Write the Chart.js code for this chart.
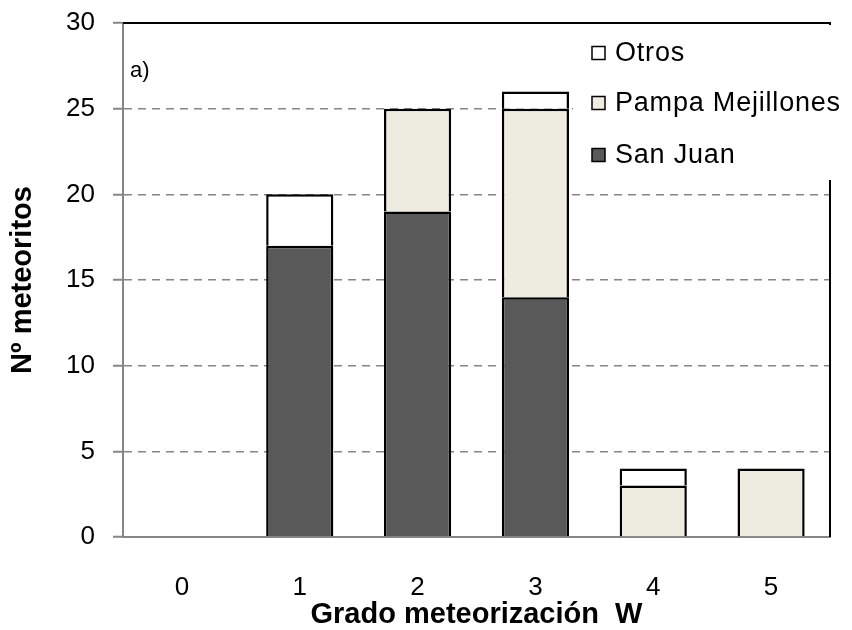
<!DOCTYPE html>
<html>
<head>
<meta charset="utf-8">
<script src="https://cdn.jsdelivr.net/npm/chart.js@4.4.1/dist/chart.umd.min.js"></script>
<style>
    body { margin: 0; background: #fff; }
    #wrap { width: 852px; height: 630px; position: relative; }
</style>
</head>
<body>
<div id="wrap"><canvas id="chart"></canvas></div>
<script>
// Data
const categories = ['0', '1', '2', '3', '4', '5'];
const sanJuan = [0, 17, 19, 14, 0, 0];
const pampaMejillones = [0, 0, 6, 11, 3, 4];
const otros = [0, 3, 0, 1, 1, 0];
const yTicks = [0, 5, 10, 15, 20, 25, 30];

const FONT = 'Arial, "Liberation Sans", sans-serif';
const GRID_GRAY = '#868686';

// Black top/right frame of the plot area
const framePlugin = {
    id: 'frame',
    afterDatasetsDraw(chart) {
        const {ctx, chartArea: a} = chart;
        ctx.save();
        ctx.strokeStyle = '#000';
        ctx.lineWidth = 2;
        ctx.beginPath();
        ctx.moveTo(a.left, a.top);
        ctx.lineTo(a.right, a.top);
        ctx.lineTo(a.right, a.bottom);
        ctx.stroke();
        ctx.restore();
    }
};

// Legend box inside the plot (top right), reversed order like the original
const boxLegendPlugin = {
    id: 'boxLegend',
    afterDraw(chart) {
        const {ctx, chartArea: a} = chart;
        ctx.save();
        ctx.fillStyle = '#fff';
        ctx.fillRect(573, a.top + 2, 279, 155);

        const rows = [53, 103, 155];
        const sets = chart.data.datasets.slice().reverse();
        ctx.font = '27px ' + FONT;
        ctx.letterSpacing = '0.8px';
        ctx.textBaseline = 'middle';
        ctx.textAlign = 'left';
        sets.forEach((ds, i) => {
            const y = rows[i];
            ctx.fillStyle = ds.backgroundColor;
            ctx.fillRect(592, y - 6.5, 13, 13);
            ctx.strokeStyle = '#000';
            ctx.lineWidth = 1.5;
            ctx.strokeRect(592, y - 6.5, 13, 13);
            ctx.fillStyle = '#000';
            ctx.fillText(ds.label, 615, y + 1);
        });

        // panel tag
        ctx.letterSpacing = '0px';
        ctx.font = '22px ' + FONT;
        ctx.fillText('a)', 130, 71);
        ctx.restore();
    }
};

const barStyle = {
    borderColor: '#000',
    borderWidth: {top: 2.5, left: 2.5, right: 2.5, bottom: 0},
    borderSkipped: false,
    barPercentage: 0.57,
    categoryPercentage: 1.0
};

new Chart(document.getElementById('chart'), {
    type: 'bar',
    data: {
        labels: categories,
        datasets: [
            {label: 'San Juan', data: sanJuan, backgroundColor: '#595959', ...barStyle},
            {label: 'Pampa Mejillones', data: pampaMejillones, backgroundColor: '#eeece1', ...barStyle},
            {label: 'Otros', data: otros, backgroundColor: '#ffffff', ...barStyle}
        ]
    },
    options: {
        responsive: true,
        maintainAspectRatio: false,
        animation: false,
        layout: {padding: {left: 0, right: 22, top: 23, bottom: 0}},
        plugins: {
            legend: {display: false},
            tooltip: {enabled: false}
        },
        scales: {
            x: {
                stacked: true,
                grid: {display: false, drawTicks: false},
                border: {display: true, color: GRID_GRAY, width: 2},
                ticks: {color: '#000', font: {family: FONT, size: 26}, padding: 35},
                title: {
                    display: true,
                    text: 'Grado meteorización  W',
                    color: '#000',
                    font: {family: FONT, size: 29, weight: 'bold', lineHeight: 1},
                    padding: {top: 0, bottom: 1}
                },
                afterFit(scale) {
                    scale.height = 93;
                    scale.paddingLeft = 0;
                    scale.paddingRight = 0;
                }
            },
            y: {
                stacked: true,
                min: 0,
                max: 30,
                afterBuildTicks(scale) {
                    scale.ticks = yTicks.map(v => ({value: v}));
                },
                grid: {
                    color: ctx => (ctx.tick && ctx.tick.value === 30) ? 'rgba(0,0,0,0)' : GRID_GRAY,
                    lineWidth: 1.5,
                    tickLength: 10,
                    tickColor: GRID_GRAY,
                    tickWidth: 2
                },
                border: {
                    display: true,
                    color: GRID_GRAY,
                    width: 2,
                    dash: ctx => (ctx.tick && ctx.tick.value === 0) ? [] : [8, 6]
                },
                ticks: {color: '#000', font: {family: FONT, size: 26}, padding: 18},
                title: {
                    display: true,
                    text: 'Nº meteoritos',
                    color: '#000',
                    font: {family: FONT, size: 29, weight: 'bold', lineHeight: 1},
                    padding: {top: 8, bottom: 0}
                },
                afterFit(scale) {
                    scale.width = 123;
                    scale.paddingTop = 0;
                    scale.paddingBottom = 0;
                }
            }
        }
    },
    plugins: [framePlugin, boxLegendPlugin]
});
</script>
</body>
</html>
